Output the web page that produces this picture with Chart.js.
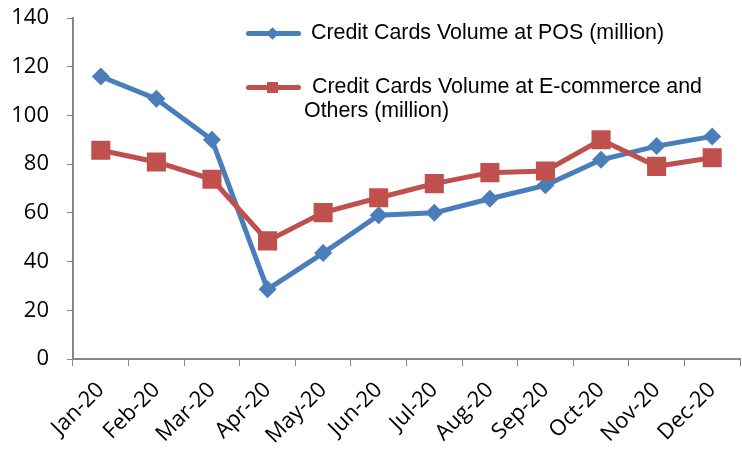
<!DOCTYPE html>
<html>
<head>
<meta charset="utf-8">
<script src="https://cdn.jsdelivr.net/npm/chart.js@4/dist/chart.umd.min.js"></script>
<style>
  html, body { margin: 0; padding: 0; background: #fff; }
  #wrap { position: relative; width: 742px; height: 452px; }
  #chart { position: absolute; left: 0; top: 0; }
  .lg-text { position: absolute; font-family: "Liberation Sans", Arial, sans-serif; font-size: 21.4px; line-height: 21px; color: #000; white-space: nowrap; }
  .lg-line { position: absolute; height: 5px; border-radius: 3px; }
  .lg-mark { position: absolute; }
</style>
</head>
<body>
<div id="wrap">
  <canvas id="chart" width="742" height="452"></canvas>
  <!-- legend drawn as html, sits inside the plot area -->
  <div class="lg-line" style="left:246px; top:31px; width:55px; background:#4a7ebb;"></div>
  <div class="lg-mark" style="left:268px; top:29px; width:9px; height:9px; background:#4a7ebb; transform:rotate(45deg);"></div>
  <div class="lg-text" style="left:311px; top:22px;">Credit Cards Volume at POS (million)</div>

  <div class="lg-line" style="left:246px; top:85px; width:55px; background:#c0504d;"></div>
  <div class="lg-mark" style="left:267px; top:82px; width:11px; height:11px; background:#c0504d;"></div>
  <div class="lg-text" style="left:312px; top:76px;">Credit Cards Volume at E-commerce and</div>
  <div class="lg-text" style="left:304px; top:100px;">Others (million)</div>
</div>
<script>
const months = ['Jan-20', 'Feb-20', 'Mar-20', 'Apr-20', 'May-20', 'Jun-20',
                'Jul-20', 'Aug-20', 'Sep-20', 'Oct-20', 'Nov-20', 'Dec-20'];
const posVolume   = [116, 106.8, 90, 28.6, 43.5, 59, 60, 65.8, 71.3, 81.8, 87.4, 91.4];
const ecomVolume  = [85.7, 80.9, 73.8, 48.5, 60.1, 66.2, 72, 76.5, 77.2, 90, 79.1, 82.6];
const posLabel  = 'Credit Cards Volume at POS (million)';
const ecomLabel = 'Credit Cards Volume at E-commerce and Others (million)';

const axisColor = '#868686';
const tickFont = { family: '"Open Sans", sans-serif', size: 22 };

// pin the plot area: no extra padding from tick labels
function noPad(s) {
  s.paddingLeft = 0; s.paddingRight = 0; s.paddingTop = 0; s.paddingBottom = 0;
}

new Chart(document.getElementById('chart'), {
  type: 'line',
  data: {
    labels: months,
    datasets: [
      {
        label: posLabel,
        data: posVolume,
        borderColor: '#4a7ebb',
        backgroundColor: '#4a7ebb',
        borderWidth: 5,
        pointStyle: 'rectRot',
        pointRadius: 9,
        pointBorderWidth: 0,
        tension: 0,
        order: 2,
      },
      {
        label: ecomLabel,
        data: ecomVolume,
        borderColor: '#c0504d',
        backgroundColor: '#c0504d',
        borderWidth: 5,
        pointStyle: 'rect',
        pointRadius: 13.5,
        pointBorderWidth: 0,
        tension: 0,
        order: 1,
      },
    ],
  },
  options: {
    responsive: false,
    animation: false,
    layout: { autoPadding: false, padding: { top: 18, right: 2, left: 0, bottom: 0 } },
    plugins: { legend: { display: false }, tooltip: { enabled: false } },
    scales: {
      x: {
        offset: true,
        grid: { drawOnChartArea: false, drawTicks: true, tickLength: 7, color: axisColor, offset: true },
        border: { color: axisColor, width: 2 },
        ticks: { color: '#000', font: tickFont, minRotation: 45, maxRotation: 45, padding: 11, autoSkip: false },
        afterFit: s => { s.height = 93; noPad(s); },
      },
      y: {
        min: 0,
        max: 140,
        grid: { drawOnChartArea: false, drawTicks: true, tickLength: 6, color: axisColor },
        border: { color: axisColor, width: 2 },
        ticks: { stepSize: 20, color: '#000', font: tickFont, padding: 18 },
        afterFit: s => { s.width = 73; noPad(s); },
      },
    },
  },
});
</script>
</body>
</html>
